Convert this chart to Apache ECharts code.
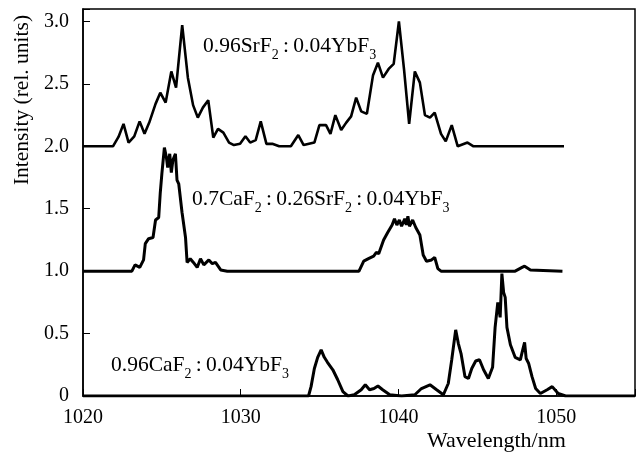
<!DOCTYPE html>
<html><head><meta charset="utf-8">
<script src="https://cdn.jsdelivr.net/npm/echarts@6/dist/echarts.min.js"></script>
<style>html,body{margin:0;padding:0;background:#fff}#c{width:640px;height:459px}</style>
</head><body><div id="c"></div>
<script>
const xTicks = [1020, 1030, 1040, 1050];
const yTicks = [0, 0.5, 1.0, 1.5, 2.0, 2.5, 3.0];

// 0.96SrF2 : 0.04YbF3 (offset +2)
const wl1 = [1020,1021.9,1022.25,1022.57,1022.89,1023.25,1023.59,1023.9,1024.2,1024.6,1024.9,1025.24,1025.6,1025.9,1026.29,1026.65,1026.98,1027.28,1027.6,1027.94,1028.26,1028.56,1028.9,1029.26,1029.57,1029.96,1030.3,1030.6,1030.95,1031.27,1031.63,1032.0,1032.44,1033.18,1033.65,1033.99,1034.67,1034.99,1035.41,1035.69,1036.0,1036.37,1036.69,1037.0,1037.32,1037.64,1038.0,1038.39,1038.7,1039.02,1039.38,1039.7,1040.03,1040.36,1040.68,1041.04,1041.36,1041.68,1042.0,1042.3,1042.7,1043.0,1043.38,1043.76,1044.38,1044.76,1050.5];
const int1 = [2.0,2.0,2.075,2.18,2.03,2.08,2.2,2.1,2.19,2.34,2.43,2.35,2.6,2.47,2.97,2.55,2.33,2.23,2.31,2.37,2.07,2.14,2.11,2.03,2.01,2.02,2.08,2.03,2.05,2.2,2.02,2.02,2.0,2.0,2.09,2.01,2.03,2.17,2.17,2.1,2.25,2.13,2.19,2.24,2.39,2.28,2.26,2.57,2.67,2.55,2.62,2.66,3.0,2.61,2.18,2.6,2.51,2.25,2.23,2.27,2.1,2.04,2.17,2.0,2.03,2.0,2.0];

// 0.7CaF2 : 0.26SrF2 : 0.04YbF3 (offset +1)
const wl2 = [1020,1023.1,1023.3,1023.6,1023.84,1023.95,1024.16,1024.44,1024.6,1024.8,1024.9,1025.0,1025.16,1025.29,1025.37,1025.5,1025.6,1025.7,1025.86,1025.96,1026.07,1026.28,1026.5,1026.6,1026.8,1027.0,1027.24,1027.45,1027.66,1027.98,1028.2,1028.4,1028.73,1029.15,1037.5,1037.8,1038.1,1038.43,1038.6,1038.75,1039.06,1039.32,1039.6,1039.75,1039.9,1040.06,1040.2,1040.4,1040.5,1040.6,1040.7,1040.9,1041.1,1041.36,1041.57,1041.78,1042.1,1042.3,1042.5,1042.7,1047.4,1047.84,1048.0,1048.37,1050.4];
const int2 = [1.0,1.0,1.05,1.03,1.09,1.22,1.26,1.27,1.41,1.43,1.63,1.78,1.99,1.91,1.83,1.94,1.79,1.89,1.94,1.73,1.7,1.47,1.27,1.07,1.1,1.07,1.03,1.1,1.05,1.09,1.06,1.07,1.01,1.0,1.0,1.08,1.1,1.12,1.15,1.14,1.25,1.31,1.37,1.42,1.37,1.41,1.36,1.42,1.37,1.44,1.36,1.41,1.35,1.29,1.13,1.08,1.09,1.11,1.02,1.0,1.0,1.03,1.04,1.01,1.0];

// 0.96CaF2 : 0.04YbF3
const wl3 = [1020,1034.3,1034.46,1034.67,1034.88,1035.1,1035.3,1035.5,1035.84,1036.15,1036.48,1036.8,1037.2,1037.64,1037.9,1038.17,1038.45,1038.7,1039.0,1039.45,1040.2,1041.04,1041.46,1042.0,1042.42,1042.85,1043.16,1043.38,1043.63,1043.8,1043.97,1044.22,1044.44,1044.65,1044.9,1045.14,1045.4,1045.7,1045.97,1046.13,1046.3,1046.45,1046.56,1046.67,1046.77,1046.88,1047.1,1047.4,1047.73,1047.88,1048.0,1048.1,1048.26,1048.47,1048.7,1049.0,1049.43,1049.75,1050.13,1050.6,1055];
const int3 = [0,0,0.075,0.22,0.31,0.37,0.31,0.27,0.21,0.13,0.035,0.0,0.01,0.05,0.09,0.05,0.06,0.08,0.05,0.01,0,0.01,0.06,0.09,0.05,0.01,0.1,0.29,0.53,0.42,0.34,0.155,0.14,0.22,0.28,0.29,0.21,0.14,0.23,0.55,0.75,0.63,0.98,0.83,0.79,0.55,0.41,0.31,0.29,0.37,0.43,0.3,0.26,0.155,0.06,0.02,0.05,0.075,0.02,0,0];

const FONT = 'Liberation Serif';
const pairs = (xs, ys) => xs.map((x, i) => [x, ys[i]]);

function formula(parts) {
  return parts.map(p => (p[1] ? '{s|' : '{m|') + p[0] + '}').join('');
}
const richStyle = {
  m: {fontSize: 21.5, fontFamily: FONT, fill: '#000', verticalAlign: 'bottom', padding: [0, 0, 5, 0]},
  s: {fontSize: 14, fontFamily: FONT, fill: '#000', verticalAlign: 'bottom'}
};

const chart = echarts.init(document.getElementById('c'), null, {renderer: 'canvas'});
chart.setOption({
  animation: false,
  backgroundColor: '#fff',
  grid: {left: 83, right: 5, top: 9, bottom: 63, show: true, borderColor: '#000', borderWidth: 1.5, backgroundColor: 'transparent'},
  xAxis: {
    type: 'value', min: 1020, max: 1055, interval: 10,
    axisLine: {lineStyle: {color: '#000', width: 1.5}},
    axisTick: {inside: true, length: 7, lineStyle: {color: '#000', width: 1}},
    splitLine: {show: false},
    axisLabel: {color: '#000', fontFamily: FONT, fontSize: 20, margin: 12,
      formatter: v => (xTicks.indexOf(v) >= 0 ? String(v) : '')}
  },
  yAxis: {
    type: 'value', min: 0, max: 3.1, interval: 0.5,
    axisLine: {lineStyle: {color: '#000', width: 1.5}},
    axisTick: {inside: true, length: 7, lineStyle: {color: '#000', width: 1}},
    splitLine: {show: false},
    axisLabel: {color: '#000', fontFamily: FONT, fontSize: 20, margin: 14,
      formatter: v => {
        const t = yTicks.find(k => Math.abs(k - v) < 1e-6);
        if (t === undefined) return '';
        return t === 0 ? '0' : t.toFixed(1);
      }}
  },
  series: [
    {type: 'line', data: pairs(wl1, int1), showSymbol: false, lineStyle: {color: '#000', width: 2.6}, z: 3},
    {type: 'line', data: pairs(wl2, int2), showSymbol: false, lineStyle: {color: '#000', width: 3}, z: 3},
    {type: 'line', data: pairs(wl3, int3), showSymbol: false, lineStyle: {color: '#000', width: 3}, z: 3}
  ],
  graphic: [
    {type: 'text', left: 203, top: 35, style: {text: formula([['0.96SrF', 0], ['2', 1], ['\u2009:\u20090.04YbF', 0], ['3', 1]]), rich: richStyle}},
    {type: 'text', left: 192, top: 188, style: {text: formula([['0.7CaF', 0], ['2', 1], ['\u2009:\u20090.26SrF', 0], ['2', 1], ['\u2009:\u20090.04YbF', 0], ['3', 1]]), rich: richStyle}},
    {type: 'text', left: 111, top: 354, style: {text: formula([['0.96CaF', 0], ['2', 1], ['\u2009:\u20090.04YbF', 0], ['3', 1]]), rich: richStyle}},
    {type: 'text', left: 427, top: 430, style: {text: 'Wavelength/nm', font: '22px "Liberation Serif"', fill: '#000'}},
    {type: 'text', x: 22, y: 100, rotation: Math.PI / 2, style: {text: 'Intensity (rel. units)', font: '21.5px "Liberation Serif"', fill: '#000', align: 'center', verticalAlign: 'middle'}}
  ]
});
</script>
</body></html>
